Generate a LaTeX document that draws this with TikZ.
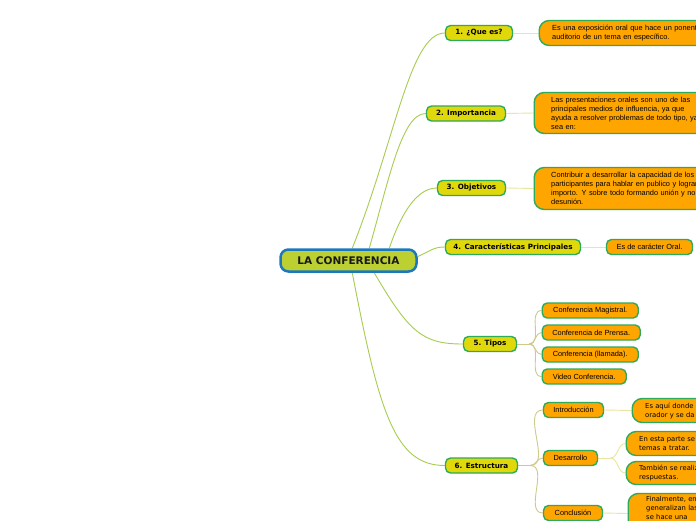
\documentclass[tikz,border=0pt]{standalone}
\usepackage{fontspec}
\setmainfont{Liberation Sans}
\newfontfamily\vfont{DejaVu Sans}
\usetikzlibrary{calc,backgrounds}
\definecolor{lvlone}{HTML}{E0D80A}
\definecolor{orng}{HTML}{FFA500}
\definecolor{grn}{HTML}{2DAA5A}
\definecolor{rootfill}{HTML}{BDD032}
\definecolor{rootline}{HTML}{1B78BE}
\definecolor{linkone}{HTML}{A8CC50}
\definecolor{linktwo}{HTML}{EAE6A0}
\definecolor{linkthree}{HTML}{CFC98A}
\tikzset{
 rootbox/.style={draw=rootline, line width=2.5pt, fill=rootfill, rounded corners=8pt,
   minimum width=136pt, minimum height=22pt, inner sep=0pt,
   font=\vfont\bfseries\fontsize{10.5}{12}\selectfont, text=black!90},
 topic/.style={draw=grn, line width=1.4pt, fill=lvlone, rounded corners=5pt,
   minimum height=15pt, inner sep=0pt, font=\vfont\bfseries\fontsize{7.2}{8}\selectfont, text=black},
 leaf/.style={draw=grn, line width=1.4pt, fill=orng, rounded corners=5pt,
   minimum height=15pt, inner sep=0pt, font=\fontsize{7.4}{9}\selectfont, text=black},
 note/.style={draw=grn, line width=1.4pt, fill=orng, rounded corners=10pt, anchor=west,
   align=left, text width=240pt, inner xsep=13pt, inner ysep=0pt,
   font=\fontsize{7.4}{9}\selectfont, text=black},
 vnote/.style={note, font=\vfont\fontsize{6.8}{9}\selectfont},
 linka/.style={draw=linkone, line width=0.9pt},
 linkb/.style={draw=linktwo, line width=0.9pt},
 linkc/.style={draw=linkthree, line width=0.9pt},
}
\begin{document}
\begin{tikzpicture}[x=1pt,y=-1pt]
\useasboundingbox (0,0) rectangle (696,520);
\clip (0,0) rectangle (696,520);

% nodes
\node[rootbox] (root) at (348.5,260.5) {LA CONFERENCIA};

\node[topic, minimum width=67pt] (n1) at (479,33) {1. ¿Que es?};
\node[note, minimum height=25pt] (a1) at (538.5,33) {Es una exposición oral que hace un ponente\\auditorio de un tema en específico.};

\node[topic, minimum width=79pt] (n2) at (466,113.5) {2. Importancia};
\node[note, minimum height=41pt, inner xsep=17pt] (a2) at (533.5,113) {Las presentaciones orales son uno de las\\principales medios de influencia, ya que\\ayuda a resolver problemas de todo tipo, ya\\sea en:};

\node[topic, minimum width=68pt] (n3) at (471.5,188) {3. Objetivos};
\node[note, minimum height=42pt, inner xsep=17pt] (a3) at (533.5,188.5) {Contribuir a desarrollar la capacidad de los\\participantes para hablar en publico y lograr\\importo. Y sobre todo formando unión y no\\desunión.};

\node[topic, minimum width=135pt] (n4) at (513,247) {4. Características Principales};
\node[leaf, minimum width=86pt] (a4) at (649.5,247) {Es de carácter Oral.};

\node[topic, minimum width=53pt] (n5) at (490,344) {5. Tipos};
\node[leaf, minimum width=96pt, anchor=west] (t1) at (541.5,310.5) {Conferencia Magistral.};
\node[leaf, minimum width=98pt, anchor=west] (t2) at (541.5,332.5) {Conferencia de Prensa.};
\node[leaf, minimum width=96pt, anchor=west] (t3) at (541.5,354.5) {Conferencia (llamada).};
\node[leaf, minimum width=84pt, anchor=west] (t4) at (541.5,376.5) {Video Conferencia.};

\node[topic, minimum width=72pt] (n6) at (481.5,465.5) {6. Estructura};
\node[leaf, minimum width=60pt] (e1) at (573.5,410) {Introducción};
\node[vnote, minimum height=24pt] (e1a) at (631.5,410.5) {Es aquí donde se\\orador y se da};
\node[leaf, minimum width=54pt] (e2) at (570.5,458) {Desarrollo};
\node[vnote, minimum height=24pt] (e2a) at (625.5,443.5) {En esta parte se\\temas a tratar.};
\node[vnote, minimum height=23pt] (e2b) at (625.5,473) {También se realizan\\respuestas.};
\node[leaf, minimum width=59pt] (e3) at (573,513) {Conclusión};
\node[vnote, minimum height=40pt, inner xsep=18pt] (e3a) at (627.5,513.5) {Finalmente, en\\generalizan las\\se hace una\\\strut};

% connectors
\begin{scope}[on background layer]
\fill[white] (0,0) rectangle (696,520);
\draw[linka] ($(root.north west)+(73,0)$) .. controls ($(root.north west)+(116,-108)$) and ($(n1.west)+(-35,0)$) .. (n1.west);
\draw[linka] ($(root.north west)+(90,0)$) .. controls ($(root.north west)+(110,-70)$) and ($(n2.west)+(-24,0)$) .. (n2.west);
\draw[linka] ($(root.north west)+(110,0)$) .. controls ($(root.north west)+(122,-35)$) and ($(n3.west)+(-20,0)$) .. (n3.west);
\draw[linka] ($(root.east)+(0,-4)$) .. controls ($(root.east)+(12,-9)$) and ($(n4.west)+(-12,0)$) .. (n4.west);
\draw[linka] ($(root.south west)+(95,0)$) .. controls ($(root.south west)+(130,60)$) and ($(n5.west)+(-40,0)$) .. (n5.west);
\draw[linka] ($(root.south west)+(73,0)$) .. controls ($(root.south west)+(100,140)$) and ($(n6.west)+(-50,0)$) .. (n6.west);

\draw[linkb] (n1.east) -- (a1.west);
\draw[linkb] (n2.east) -- (a2.west);
\draw[linkb] (n3.east) -- (a3.west);
\draw[linkb] (n4.east) -- (a4.west);

\draw[linkc] (n5.east) -- ++(12,0) coordinate (b5);
\foreach \t in {t1,t2,t3,t4} \draw[linkc] (b5) to[out=0,in=180] (\t.west);

\draw[linkc] (n6.east) -- ++(12,0) coordinate (b6);
\foreach \t in {e1,e2,e3} \draw[linkc] (b6) to[out=0,in=180] (\t.west);

\draw[linkb] (e1.east) -- (e1a.west);
\draw[linkb] (e2.east) -- ++(12,0) coordinate (b7);
\foreach \t in {e2a,e2b} \draw[linkb] (b7) to[out=0,in=180] (\t.west);
\draw[linkb] (e3.east) -- (e3a.west);
\end{scope}
\end{tikzpicture}
\end{document}
